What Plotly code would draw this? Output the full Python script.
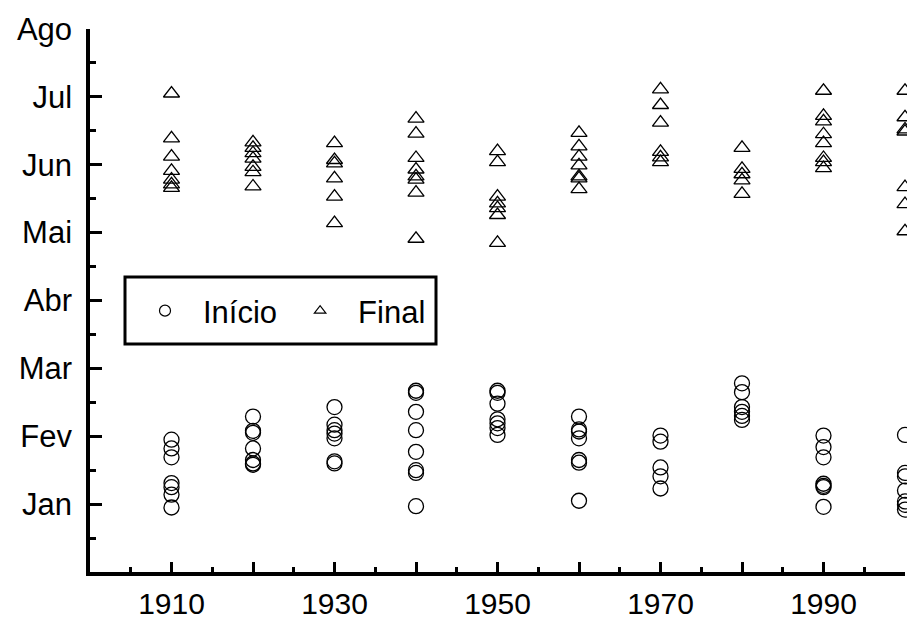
import plotly.graph_objects as go

# Month scale: Jan=1 ... Ago=8 (fractional = position within month axis)
month_labels = ["Jan", "Fev", "Mar", "Abr", "Mai", "Jun", "Jul", "Ago"]
month_vals = [1, 2, 3, 4, 5, 6, 7, 8]

decades = [1910, 1920, 1930, 1940, 1950, 1960, 1970, 1980, 1990, 2000]

inicio = {
    1910: [1.95, 1.82, 1.69, 1.31, 1.25, 1.14, 0.95],
    1920: [2.29, 2.08, 2.05, 1.82, 1.65, 1.60, 1.58],
    1930: [2.43, 2.17, 2.09, 2.04, 1.97, 1.63, 1.60],
    1940: [2.67, 2.64, 2.36, 2.09, 1.77, 1.50, 1.46, 0.97],
    1950: [2.67, 2.64, 2.48, 2.25, 2.19, 2.12, 2.02],
    1960: [2.29, 2.10, 2.07, 1.97, 1.65, 1.61, 1.05],
    1970: [2.01, 1.92, 1.54, 1.41, 1.23],
    1980: [2.78, 2.65, 2.43, 2.36, 2.30, 2.24],
    1990: [2.01, 1.84, 1.69, 1.30, 1.27, 1.25, 0.96],
    2000: [2.02, 1.46, 1.41, 1.20, 1.04, 0.99, 0.92],
}

final = {
    1910: [7.05, 6.39, 6.12, 5.91, 5.78, 5.71, 5.66],
    1920: [6.33, 6.25, 6.17, 6.09, 5.97, 5.89, 5.68],
    1930: [6.32, 6.07, 6.02, 5.80, 5.53, 5.14],
    1940: [6.68, 6.46, 6.10, 5.93, 5.83, 5.78, 5.59, 4.91],
    1950: [6.20, 6.04, 5.53, 5.43, 5.36, 5.26, 4.85],
    1960: [6.47, 6.27, 6.12, 5.99, 5.83, 5.80, 5.64],
    1970: [7.11, 6.88, 6.62, 6.19, 6.11, 6.04],
    1980: [6.25, 5.94, 5.86, 5.77, 5.57],
    1990: [7.09, 6.72, 6.64, 6.45, 6.32, 6.10, 6.04, 5.95],
    2000: [7.09, 6.70, 6.52, 6.49, 5.67, 5.42, 5.02],
}

x_tickvals = [1910, 1920, 1930, 1940, 1950, 1960, 1970, 1980, 1990, 2000]
x_ticktext = ["1910", "", "1930", "", "1950", "", "1970", "", "1990", ""]

def flatten(d):
    xs, ys = [], []
    for yr in decades:
        for v in d[yr]:
            xs.append(yr)
            ys.append(v)
    return xs, ys

xi, yi = flatten(inicio)
xf, yf = flatten(final)

FONT = "Liberation Sans, Arial, sans-serif"
FS = 31

# The page body has an 8px margin, so the figure is sized/offset to compensate.
OFF = 8
W, H = 915 - OFF, 621 - OFF
L, R, T, B = 90 - OFF, 10, 29 - OFF, 49
PW, PH = W - L - R, H - T - B

def px_x(p):  # reference-screen px -> paper x
    return (p - OFF - L) / PW

def px_y(p):  # reference-screen px -> paper y
    return (H - B - (p - OFF)) / PH

fig = go.Figure()
fig.add_trace(go.Scatter(
    x=xi, y=yi, mode="markers", name="Início", showlegend=False,
    marker=dict(symbol="circle-open", size=15, color="black", line=dict(width=1.3, color="black")),
    cliponaxis=False,
))
fig.add_trace(go.Scatter(
    x=xf, y=yf, mode="markers", name="Final", showlegend=False,
    marker=dict(symbol="triangle-up-open", size=14, color="black", line=dict(width=1.3, color="black")),
    cliponaxis=False,
))
# legend-only entries with smaller symbols
fig.add_trace(go.Scatter(
    x=[None], y=[None], mode="markers", name="Início",
    marker=dict(symbol="circle-open", size=11, color="black", line=dict(width=1.2, color="black")),
))
fig.add_trace(go.Scatter(
    x=[None], y=[None], mode="markers", name="Final",
    marker=dict(symbol="triangle-up-open", size=10, color="black", line=dict(width=1.2, color="black")),
))

# legend frame
fig.add_shape(
    type="rect", xref="paper", yref="paper",
    x0=px_x(125), x1=px_x(436), y0=px_y(344), y1=px_y(277),
    line=dict(color="black", width=3), fillcolor="white", layer="below",
)

fig.update_layout(
    width=W, height=H,
    margin=dict(l=L, r=R, t=T, b=B, autoexpand=False),
    paper_bgcolor="white", plot_bgcolor="white",
    font=dict(family=FONT, size=FS, color="black"),
    showlegend=True,
    legend=dict(
        orientation="h",
        x=px_x(127), y=px_y(311), xanchor="left", yanchor="middle",
        borderwidth=0,
        bgcolor="rgba(0,0,0,0)",
        font=dict(size=FS),
        itemsizing="trace",
        itemwidth=66,
    ),
    xaxis=dict(
        range=[1900, 2000], automargin=False,
        showgrid=False, zeroline=False,
        showline=True, linecolor="black", linewidth=3.5,
        tickmode="array", tickvals=x_tickvals, ticktext=x_ticktext,
        ticks="inside", ticklen=10, tickwidth=2.5, tickcolor="black",
        minor=dict(dtick=5, tick0=1900, ticks="inside", ticklen=5, tickwidth=2.5, tickcolor="black", showgrid=False),
        ticklabelstandoff=2,
        tickfont=dict(size=30),
    ),
    yaxis=dict(
        range=[0, 8], automargin=False,
        showgrid=False, zeroline=False,
        showline=True, linecolor="black", linewidth=3.5,
        tickmode="array", tickvals=month_vals, ticktext=month_labels,
        ticks="inside", ticklen=12, tickwidth=2.5, tickcolor="black",
        minor=dict(dtick=0.5, tick0=0, ticks="inside", ticklen=6, tickwidth=2.5, tickcolor="black", showgrid=False),
        ticklabelstandoff=8,
        tickfont=dict(size=FS),
    ),
)

fig.write_html("out.html")
